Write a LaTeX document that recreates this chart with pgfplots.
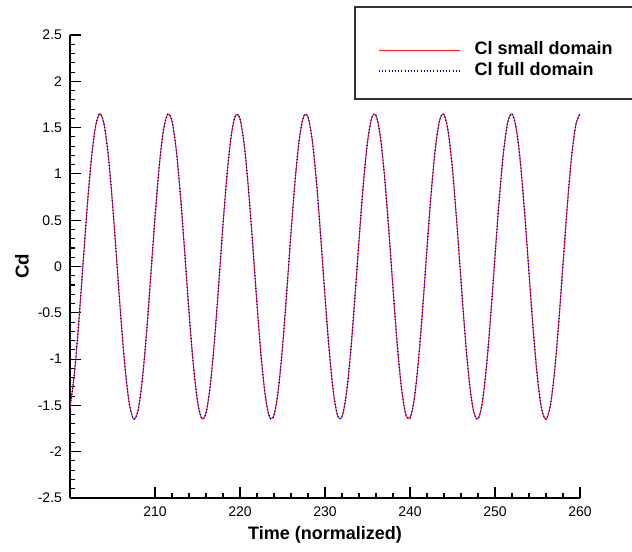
\documentclass[border=0pt]{standalone}
\usepackage{pgfplots}
\usepackage{pgfplotstable}
\pgfplotsset{compat=1.18}
\usepackage{fontspec}
\setmainfont{Liberation Sans}

\pgfplotstableread{
t cls clf
200.0 -1.525 -1.525
200.5 -1.171 -1.171
201.0 -0.642 -0.642
201.5 -0.017 -0.017
202.0 0.611 0.611
202.5 1.147 1.147
203.0 1.511 1.511
203.5 1.650 1.650
204.0 1.541 1.541
204.5 1.201 1.201
205.0 0.682 0.682
205.5 0.060 0.060
206.0 -0.571 -0.571
206.5 -1.116 -1.116
207.0 -1.494 -1.494
207.5 -1.648 -1.648
208.0 -1.556 -1.556
208.5 -1.230 -1.230
209.0 -0.721 -0.721
209.5 -0.103 -0.103
210.0 0.530 0.530
210.5 1.084 1.084
211.0 1.475 1.475
211.5 1.645 1.645
212.0 1.569 1.569
212.5 1.258 1.258
213.0 0.759 0.759
213.5 0.146 0.146
214.0 -0.489 -0.489
214.5 -1.051 -1.051
215.0 -1.455 -1.455
215.5 -1.641 -1.641
216.0 -1.582 -1.582
216.5 -1.286 -1.286
217.0 -0.797 -0.797
217.5 -0.189 -0.189
218.0 0.448 0.448
218.5 1.017 1.017
219.0 1.434 1.434
219.5 1.637 1.637
220.0 1.594 1.594
220.5 1.312 1.312
221.0 0.834 0.834
221.5 0.231 0.231
222.0 -0.406 -0.406
222.5 -0.983 -0.983
223.0 -1.412 -1.412
223.5 -1.631 -1.631
224.0 -1.604 -1.604
224.5 -1.338 -1.338
225.0 -0.871 -0.871
225.5 -0.274 -0.274
226.0 0.364 0.364
226.5 0.948 0.948
227.0 1.390 1.390
227.5 1.623 1.623
228.0 1.614 1.614
228.5 1.363 1.363
229.0 0.907 0.907
229.5 0.316 0.316
230.0 -0.322 -0.322
230.5 -0.912 -0.912
231.0 -1.366 -1.366
231.5 -1.615 -1.615
232.0 -1.622 -1.622
232.5 -1.386 -1.386
233.0 -0.943 -0.943
233.5 -0.358 -0.358
234.0 0.280 0.280
234.5 0.877 0.877
235.0 1.342 1.342
235.5 1.606 1.606
236.0 1.630 1.630
236.5 1.409 1.409
237.0 0.978 0.978
237.5 0.400 0.400
238.0 -0.238 -0.238
238.5 -0.840 -0.840
239.0 -1.316 -1.316
239.5 -1.595 -1.595
240.0 -1.636 -1.636
240.5 -1.431 -1.431
241.0 -1.012 -1.012
241.5 -0.442 -0.442
242.0 0.195 0.195
242.5 0.802 0.802
243.0 1.290 1.290
243.5 1.584 1.584
244.0 1.641 1.641
244.5 1.452 1.452
245.0 1.046 1.046
245.5 0.483 0.483
246.0 -0.152 -0.152
246.5 -0.765 -0.765
247.0 -1.262 -1.262
247.5 -1.571 -1.571
248.0 -1.645 -1.645
248.5 -1.472 -1.472
249.0 -1.078 -1.078
249.5 -0.524 -0.524
250.0 0.109 0.109
250.5 0.726 0.726
251.0 1.234 1.234
251.5 1.558 1.558
252.0 1.648 1.648
252.5 1.491 1.491
253.0 1.111 1.111
253.5 0.565 0.565
254.0 -0.067 -0.067
254.5 -0.687 -0.687
255.0 -1.206 -1.206
255.5 -1.543 -1.543
256.0 -1.649 -1.649
256.5 -1.509 -1.509
257.0 -1.142 -1.142
257.5 -0.605 -0.605
258.0 0.023 0.023
258.5 0.648 0.648
259.0 1.176 1.176
259.5 1.527 1.527
260.0 1.650 1.650
}\datatable

\begin{document}
\begin{tikzpicture}
\begin{axis}[
  name=ax,
  at={(0pt,0pt)}, anchor=south west,
  width=382.5pt, height=347.25pt,
  scale only axis,
  xmin=200, xmax=260, ymin=-2.5, ymax=2.5,
  axis x line*=bottom, axis y line*=left,
  axis line style={-, line width=1.3pt},
  tick align=inside,
  xtick={210,220,...,260},
  ytick={-2.5,-2,...,2.5},
  minor x tick num=4, minor y tick num=4,
  major tick length=8pt, minor tick length=4pt,
  tick style={line width=0.8pt, black},
  /pgf/number format/assume math mode=true,
  yticklabel style={/pgf/number format/fixed, font=\fontsize{10.5}{12}\selectfont, xshift=-2.5pt},
  xticklabel style={font=\fontsize{10.5}{12}\selectfont, yshift=-3pt},
  xlabel={Time (normalized)},
  ylabel={Cd},
  xlabel style={font=\bfseries\fontsize{13.5}{16}\selectfont, at={(axis description cs:0.5,0)}, anchor=center, yshift=-27.75pt},
  ylabel style={font=\bfseries\fontsize{14}{16}\selectfont, at={(axis description cs:-0.0941,0.5)}, anchor=center},
  legend cell align=left,
  legend image code/.code={\draw[#1] (0pt,0pt) -- (60.75pt,0pt);},
  legend style={draw=none, fill=none, at={(rel axis cs:0.6039,0.9866)}, anchor=north west,
    inner sep=0pt, row sep=2.75pt, column sep=10.5pt,
    nodes={inner sep=0pt, text height=10pt, text depth=3pt},
    font=\bfseries\fontsize{13.5}{16}\selectfont},
  clip mode=individual,
]
\addplot[red!90!white, line width=0.75pt, smooth] table[x=t, y=cls] {\datatable};
\addlegendentry{Cl small domain}
\addplot[blue!85!black, line width=1pt, dash pattern=on 0.8pt off 1.6pt, smooth] table[x=t, y=clf] {\datatable};
\addlegendentry{Cl full domain}
\end{axis}
\draw[line width=0.9pt, black!80] (213.75pt,299.25pt) rectangle (427.5pt,368.25pt);
\pgfresetboundingbox
\useasboundingbox (-52.5pt,-39.75pt) rectangle (421.5pt,373.5pt);
\end{tikzpicture}
\end{document}
